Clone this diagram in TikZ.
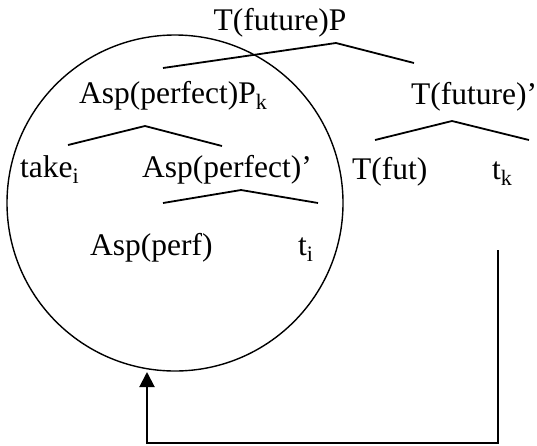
\documentclass[tikz,border=0pt]{standalone}
\usepackage{fontspec}
\setmainfont{Liberation Serif}
\usetikzlibrary{arrows.meta}

\begin{document}
\begin{tikzpicture}[x=1pt,y=-1pt,
	lbl/.style={anchor=base west,inner sep=0pt,font=\fontsize{31.5}{38}\selectfont},
	branch/.style={line width=1.8pt,line join=miter}]

			\useasboundingbox (0,0) rectangle (537,445);

			% labels of the tree
			\node[lbl,anchor=base] (tfp) at (280,30) {T(future)P};
			\node[lbl] (aspp) at (79,103) {Asp(perfect)P\textsubscript{k}};
			\node[lbl] (tbar) at (411,104) {T(future)’};
			\node[lbl] (take) at (20,177) {take\textsubscript{i}};
			\node[lbl] (aspbar) at (142,177) {Asp(perfect)’};
			\node[lbl] (tfut) at (352,179) {T(fut)};
			\node[lbl] (tk) at (492,179) {t\textsubscript{k}};
			\node[lbl] (aspperf) at (90,255) {Asp(perf)};
			\node[lbl] (ti) at (298,255) {t\textsubscript{i}};

			% branches
			\coordinate (a1) at (163, 68);
			\coordinate (a2) at (336, 43);
			\coordinate (a3) at (414, 63);
			\coordinate (b1) at (68, 145);
			\coordinate (b2) at (145, 126);
			\coordinate (b3) at (222, 146);
			\coordinate (c1) at (375, 140);
			\coordinate (c2) at (452, 121);
			\coordinate (c3) at (529, 140);
			\coordinate (d1) at (163, 203);
			\coordinate (d2) at (241, 190);
			\coordinate (d3) at (318, 203);
			\draw[branch] (a1) -- (a2) -- (a3);
			\draw[branch] (b1) -- (b2) -- (b3);
			\draw[branch] (c1) -- (c2) -- (c3);
			\draw[branch] (d1) -- (d2) -- (d3);

			% the moved constituent
			\coordinate (o) at (175, 203);
			\draw[line width=1.4pt] (o) circle[radius=168];

			% movement arrow
			\coordinate (tkfoot) at (498, 250);
			\coordinate (r) at (498, 443);
			\coordinate (l) at (147, 443);
			\coordinate (circbot) at (147, 372);
			\draw[line width=2pt,-{Triangle[length=15pt,width=15pt]}] (tkfoot) -- (r) -- (l) -- (circbot);

		\end{tikzpicture}
\end{document}
